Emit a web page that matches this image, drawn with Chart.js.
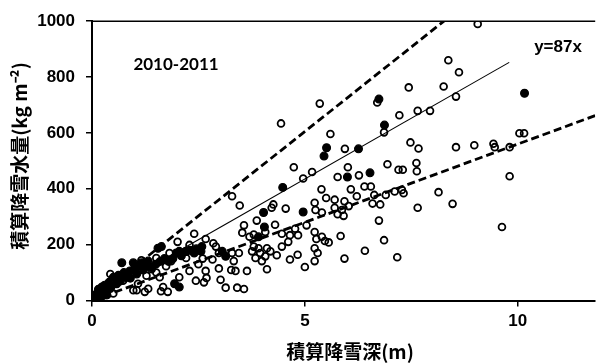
<!DOCTYPE html>
<html>
<head>
<meta charset="utf-8">
<script src="https://cdn.jsdelivr.net/npm/chart.js@4.4.1/dist/chart.umd.min.js"></script>
<style>
  html, body { margin: 0; padding: 0; background: #fff; }
  #wrap { width: 601px; height: 364px; }
</style>
</head>
<body>
<div id="wrap"><canvas id="c" width="601" height="364"></canvas></div>
<script>
// Accumulated snowfall depth (m) vs accumulated snowfall water equivalent (kg m-2), 2010-2011
const seasonLabel = '2010-2011';
const fitLabel = 'y=87x';
const xTitle = '積算降雪深(m)';
const yTitle = '積算降雪水量(kg m⁻²)';

const xTicks = [0, 5, 10];
const yTicks = [0, 200, 400, 600, 800, 1000];

// regression slope and envelope slopes (kg m-2 per m)
const fitSlope = 87;
const fitEndX = 9.8;
const upperSlope = 121;
const lowerSlope = 56;

// open circles: [depth m, water kg m-2]
const openPoints = [
  [9.06,990],[8.37,860],[8.62,817],[7.44,763],[8.26,766],[8.55,730],[7.22,663],[7.65,679],[7.94,679],
  [7.48,566],[7.67,544],[8.55,549],[8.98,556],[9.43,561],[9.46,549],[9.81,549],[10.04,599],[10.15,599],
  [7.20,468],[7.30,468],[7.62,492],[7.63,463],[9.81,445],
  [7.32,384],[7.28,396],[8.14,388],[7.65,332],[8.47,346],[9.63,263],[7.17,155],
  [5.35,705],[4.44,634],[6.70,709],[6.86,602],[5.60,596],[5.94,543],[6.94,488],[4.74,477],[5.17,460],
  [4.96,437],[6.01,477],[5.77,442],[6.27,448],
  [3.29,373],[3.47,340],[5.39,398],[5.50,367],[5.70,361],[5.93,355],[6.08,398],[6.22,373],[6.40,408],
  [6.55,408],[6.63,378],[6.59,347],[6.77,344],[6.90,378],[7.11,390],[5.23,350],[5.25,324],[5.40,315],
  [5.70,332],[5.77,309],[5.87,324],[5.91,303],[6.03,338],[4.55,329],[4.26,344],[4.22,332],[3.87,286],
  [3.57,269],[4.07,245],[3.80,236],[3.53,243],[3.70,228],[4.30,271],[4.46,239],[4.65,234],[4.77,257],
  [5.04,269],[4.84,234],[5.23,245],[5.40,228],[5.47,213],[5.56,208],[5.27,220],[5.84,231],[5.23,187],
  [5.30,170],[5.23,141],[5.00,120],[5.93,150],[6.41,178],[6.74,286],[6.86,216],[4.61,210],[4.46,193],
  [4.65,147],[4.83,164],[4.34,162],[4.19,176],[4.11,187],[4.07,158],[3.95,170],[3.84,152],[3.80,193],
  [3.91,187],[3.76,176],[3.99,141],[4.11,112],[3.64,106],[3.33,141],[3.45,170],[3.37,106],[3.27,109],
  [2.98,115],[3.02,74],[3.14,46],[3.41,46],[3.57,41],[2.67,106],[2.69,81],[2.63,65],[3.29,170],
  [2.98,170],[2.91,193],[2.67,220],[2.83,147],
  [1.16,144],[2.01,210],[1.82,170],[2.40,239],[2.29,199],[2.21,176],[0.43,95],[1.08,60],[1.32,42],
  [1.24,31],[1.05,37],[1.78,31],[1.62,33],[1.67,48],[2.05,83],[2.29,106],[2.44,71],[2.21,152],[0.43,42],
  [0.50,25],[1.40,112],[1.51,100],[1.28,89],[1.59,83],[1.74,123],[1.86,141],[1.51,152],[0.73,71],
  [0.97,37],[2.85,205],[2.50,130],[2.60,150]
];

// filled circles: [depth m, water kg m-2]
const filledPoints = [
  [4.48,405],[6.74,721],[6.87,628],[5.51,547],[5.45,517],[6.26,543],[6.00,442],[6.53,457],[10.16,742],
  [4.96,317],[4.03,315],[4.05,263],[3.91,228],[3.06,176],[3.14,158],[2.58,193],[2.56,176],[1.55,187],
  [1.63,193],[1.98,170],[2.05,176],[1.94,60],[2.05,48],[0.70,135],[0.97,135],[1.16,135],[0.50,83],
  [0.23,48],[0.12,25],[0.04,13],[0.27,19],[0.58,60],[0.81,83],[0.89,106],[1.05,95],[1.20,109],
  [1.40,118],[1.32,141],[0.02,5],[0.08,20],[0.15,40],[0.18,30],[0.30,55],[0.35,40],[0.40,65],
  [0.45,50],[0.62,90],[0.66,70],[0.75,100],[0.90,80],[1.00,115],[1.10,125],[1.25,120],[1.50,130],
  [1.70,150],[1.80,140],[2.10,160],[2.20,175],[2.30,180],[0.20,10],[0.35,20],[1.60,140],[1.90,150],
  [2.40,170],[2.45,185]
];

const xMax = 11.82;
const yMax = 1000;

const toXY = arr => arr.map(p => ({ x: p[0], y: p[1] }));
const lineThrough = (slope, xEnd) => [{ x: 0, y: 0 }, { x: xEnd, y: slope * xEnd }];

const annotate = {
  id: 'annotate',
  afterDraw(chart) {
    const ctx = chart.ctx, a = chart.chartArea;
    ctx.save();
    // upper frame line
    ctx.strokeStyle = '#000';
    ctx.lineWidth = 1.5;
    ctx.beginPath();
    ctx.moveTo(a.left, a.top);
    ctx.lineTo(a.right, a.top);
    ctx.stroke();

    ctx.fillStyle = '#000';
    ctx.textAlign = 'center';
    ctx.textBaseline = 'middle';
    ctx.font = "bold 17px Lato";
    ctx.fillText(seasonLabel, 176, 65);
    ctx.font = "bold 17px 'Liberation Sans'";
    ctx.fillText(fitLabel, 558, 47);

    ctx.font = "bold 19px 'Noto Sans CJK JP'";
    ctx.fillText(xTitle, 350, 352);
    ctx.translate(20, 156);
    ctx.rotate(-Math.PI / 2);
    ctx.fillText(yTitle, 0, 0);
    ctx.restore();
  }
};

const tickFont = { family: "'Liberation Sans', Arial, sans-serif", size: 17, weight: 'bold' };

new Chart(document.getElementById('c'), {
  type: 'scatter',
  data: {
    datasets: [
      {
        label: 'filled',
        data: toXY(filledPoints),
        pointRadius: 3.9,
        pointBorderWidth: 1.2,
        pointBackgroundColor: '#000',
        pointBorderColor: '#000'
      },
      {
        label: 'open',
        data: toXY(openPoints),
        pointRadius: 3.4,
        pointBorderWidth: 1.8,
        pointBackgroundColor: 'rgba(0,0,0,0)',
        pointBorderColor: '#000'
      },
      {
        label: 'fit',
        type: 'line',
        data: lineThrough(fitSlope, fitEndX),
        borderColor: '#000',
        borderWidth: 1.1,
        pointRadius: 0,
        fill: false
      },
      {
        label: 'upper',
        type: 'line',
        data: lineThrough(upperSlope, xMax),
        borderColor: '#000',
        borderWidth: 2.8,
        borderDash: [8, 4],
        pointRadius: 0,
        fill: false
      },
      {
        label: 'lower',
        type: 'line',
        data: lineThrough(lowerSlope, xMax),
        borderColor: '#000',
        borderWidth: 2.8,
        borderDash: [8, 4],
        pointRadius: 0,
        fill: false
      }
    ]
  },
  options: {
    responsive: false,
    animation: false,
    devicePixelRatio: 1,
    layout: { padding: { top: 13, right: 0, left: 0, bottom: 0 } },
    plugins: { legend: { display: false }, tooltip: { enabled: false } },
    scales: {
      x: {
        type: 'linear',
        min: 0,
        max: xMax,
        afterBuildTicks: s => { s.ticks = xTicks.map(v => ({ value: v })); },
        afterFit: s => { s.height = 63.5; },
        border: { display: true, color: '#000', width: 2 },
        grid: { display: true, drawOnChartArea: false, drawTicks: true, tickLength: 6, color: '#000', lineWidth: 1.5 },
        ticks: { color: '#000', font: tickFont, padding: 5, maxRotation: 0, callback: v => String(v) }
      },
      y: {
        type: 'linear',
        min: 0,
        max: yMax,
        afterBuildTicks: s => { s.ticks = yTicks.map(v => ({ value: v })); },
        afterFit: s => { s.width = 92; },
        border: { display: true, color: '#000', width: 2 },
        grid: { display: true, drawOnChartArea: false, drawTicks: true, tickLength: 6, color: '#000', lineWidth: 1.5 },
        ticks: { color: '#000', font: tickFont, padding: 11, callback: v => String(v) }
      }
    }
  },
  plugins: [annotate]
});
</script>
</body>
</html>
